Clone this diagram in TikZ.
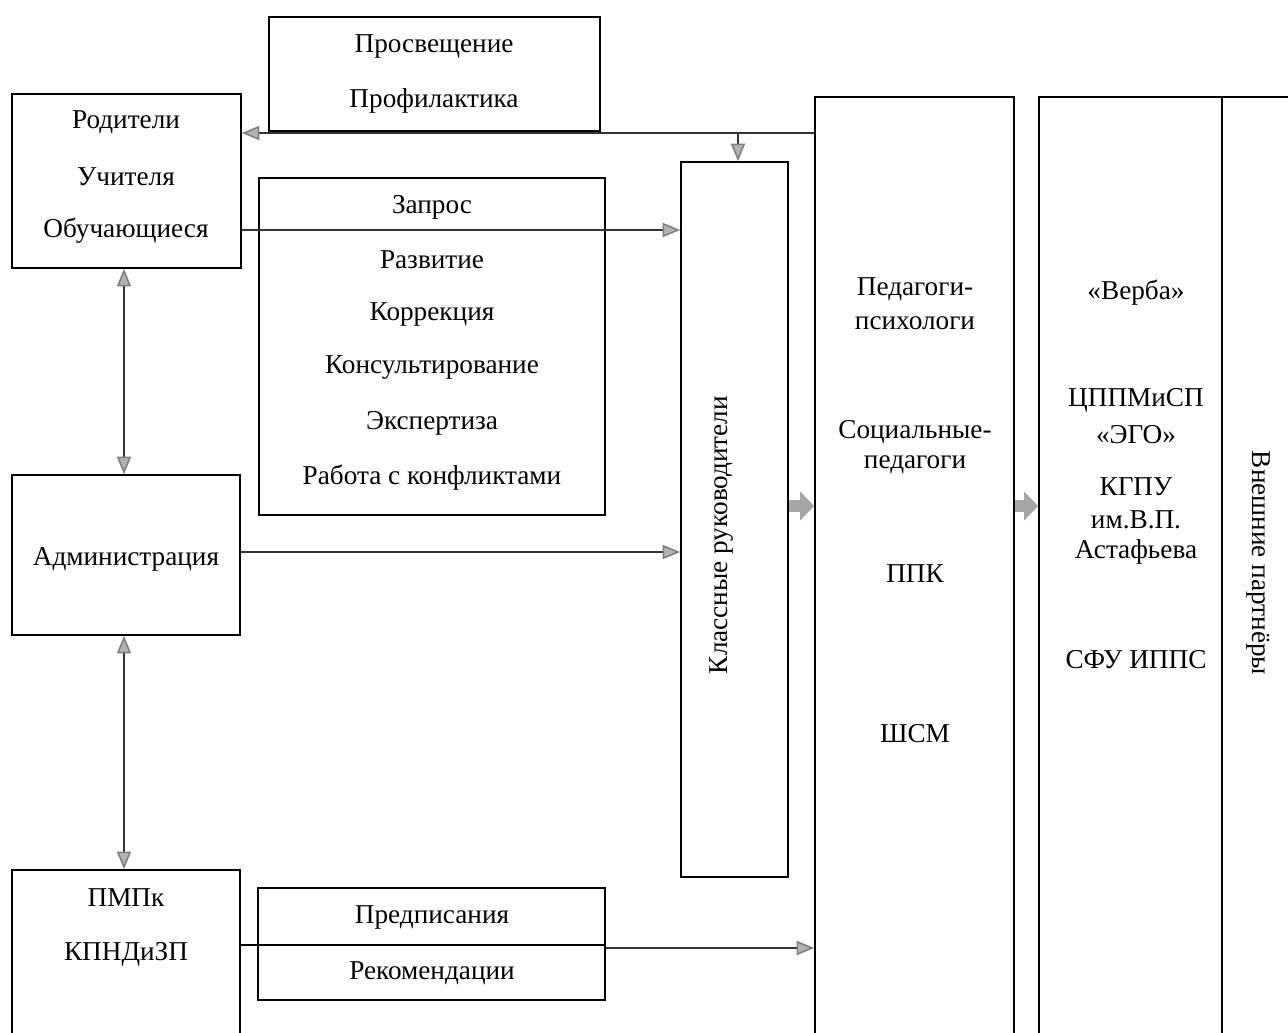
\documentclass[tikz,border=0pt]{standalone}
\usepackage{fontspec}
\setmainfont{Liberation Serif}
\usepackage{tikz}
\usetikzlibrary{arrows.meta,positioning}

\tikzset{
    box/.style={draw, line width=0.9pt, inner sep=0pt},
    lbl/.style={font=\fontsize{15.5}{18}\selectfont, inner sep=1pt, yshift=-0.06cm},
    conn/.style={line width=0.9pt, color=black!80, -{Triangle[length=10pt,width=8pt,fill=gray!60,color=gray]}},
    twoway/.style={line width=0.9pt, color=black!80, {Triangle[length=10pt,width=8pt,fill=gray!60,color=gray]}-{Triangle[length=10pt,width=8pt,fill=gray!60,color=gray]}},
    fat/.style={line width=6.5pt, color=gray!70, -{Triangle[length=8pt,width=16pt]}},
}

\begin{document}
\begin{tikzpicture}
\useasboundingbox (0,0) rectangle (25.76,-20.64);
\clip (0,0) rectangle (25.76,-20.64);

% left column
\node[box, minimum width=4.58cm, minimum height=3.48cm] (rod) at (2.53,-3.62) {};
\node[lbl] (rod1) at (2.52,-2.38) {Родители};
\node[lbl] (rod2) at (2.52,-3.48) {Учителя};
\node[lbl] (rod3) at (2.52,-4.56) {Обучающиеся};

\node[box, minimum width=4.56cm, minimum height=3.20cm] (adm) at (2.52,-11.10) {};
\node[lbl] (adm1) at (2.52,-11.12) {Администрация};

\node[box, minimum width=4.56cm, minimum height=4.00cm] (pmpk) at (2.52,-19.40) {};
\node[lbl] (pmpk1) at (2.52,-17.90) {ПМПк};
\node[lbl] (pmpk2) at (2.52,-19.02) {КПНДиЗП};

% middle column
\node[box, minimum width=6.62cm, minimum height=2.28cm] (pros) at (8.69,-1.48) {};
\node[lbl] (pros1) at (8.68,-0.86) {Просвещение};
\node[lbl] (pros2) at (8.68,-1.96) {Профилактика};

\node[box, minimum width=6.92cm, minimum height=6.74cm] (zap) at (8.64,-6.93) {};
\node[lbl] (zap1) at (8.64,-4.08) {Запрос};
\node[lbl] (zap2) at (8.64,-5.14) {Развитие};
\node[lbl] (zap3) at (8.64,-6.22) {Коррекция};
\node[lbl] (zap4) at (8.64,-7.30) {Консультирование};
\node[lbl] (zap5) at (8.64,-8.40) {Экспертиза};
\node[lbl] (zap6) at (8.64,-9.50) {Работа с конфликтами};

\node[box, minimum width=6.94cm, minimum height=2.24cm] (pred) at (8.63,-18.88) {};
\draw[line width=0.9pt] (pred.west |- 0,-18.90) -- (pred.east |- 0,-18.90);
\node[lbl] (pred1) at (8.64,-18.28) {Предписания};
\node[lbl] (pred2) at (8.64,-19.40) {Рекомендации};

% right part
\node[box, minimum width=2.14cm, minimum height=14.30cm] (kl) at (14.69,-10.39) {};
\node[lbl, rotate=90] (kl1) at (14.44,-10.64) {Классные руководители};

\node[box, minimum width=3.98cm, minimum height=19.40cm] (ped) at (18.29,-11.64) {};
\node[lbl] (ped1) at (18.30,-5.72) {Педагоги-};
\node[lbl] (ped2) at (18.30,-6.40) {психологи};
\node[lbl] (ped3) at (18.30,-8.58) {Социальные-};
\node[lbl] (ped4) at (18.30,-9.24) {педагоги};
\node[lbl] (ped5) at (18.30,-11.42) {ППК};
\node[lbl] (ped6) at (18.30,-14.62) {ШСМ};

\node[box, minimum width=6.00cm, minimum height=19.40cm] (ext) at (23.78,-11.64) {};
\draw[line width=0.9pt] (24.44,0 |- ext.north) -- (24.44,0 |- ext.south);
\node[lbl] (ext1) at (22.72,-5.80) {«Верба»};
\node[lbl] (ext2) at (22.72,-7.94) {ЦППМиСП};
\node[lbl] (ext3) at (22.72,-8.64) {«ЭГО»};
\node[lbl] (ext4) at (22.72,-9.68) {КГПУ};
\node[lbl] (ext5) at (22.72,-10.34) {им.В.П.};
\node[lbl] (ext6) at (22.72,-10.98) {Астафьева};
\node[lbl] (ext7) at (22.72,-13.14) {СФУ ИППС};
\node[lbl, rotate=-90] (ext8) at (25.16,-11.20) {Внешние партнёры};

% connectors
\draw[conn] (ped.west |- 0,-2.66) -- (rod.east |- 0,-2.66);
\draw[conn] (14.76,-2.66) -- (14.76,0 |- kl.north);
\draw[conn] (rod.east |- 0,-4.60) -- (kl.west |- 0,-4.60);
\draw[conn] (adm.east |- 0,-11.04) -- (kl.west |- 0,-11.04);
\draw[twoway] (2.48,0 |- rod.south) -- (2.48,0 |- adm.north);
\draw[twoway] (2.48,0 |- adm.south) -- (2.48,0 |- pmpk.north);
\draw[line width=0.9pt] (pmpk.east |- 0,-18.90) -- (pred.west |- 0,-18.90);
\draw[conn] (pred.east |- 0,-18.96) -- (ped.west |- 0,-18.96);

% wide arrows
\draw[fat] (kl.east |- 0,-10.12) -- (ped.west |- 0,-10.12);
\draw[fat] (ped.east |- 0,-10.12) -- (ext.west |- 0,-10.12);

\end{tikzpicture}
\end{document}
